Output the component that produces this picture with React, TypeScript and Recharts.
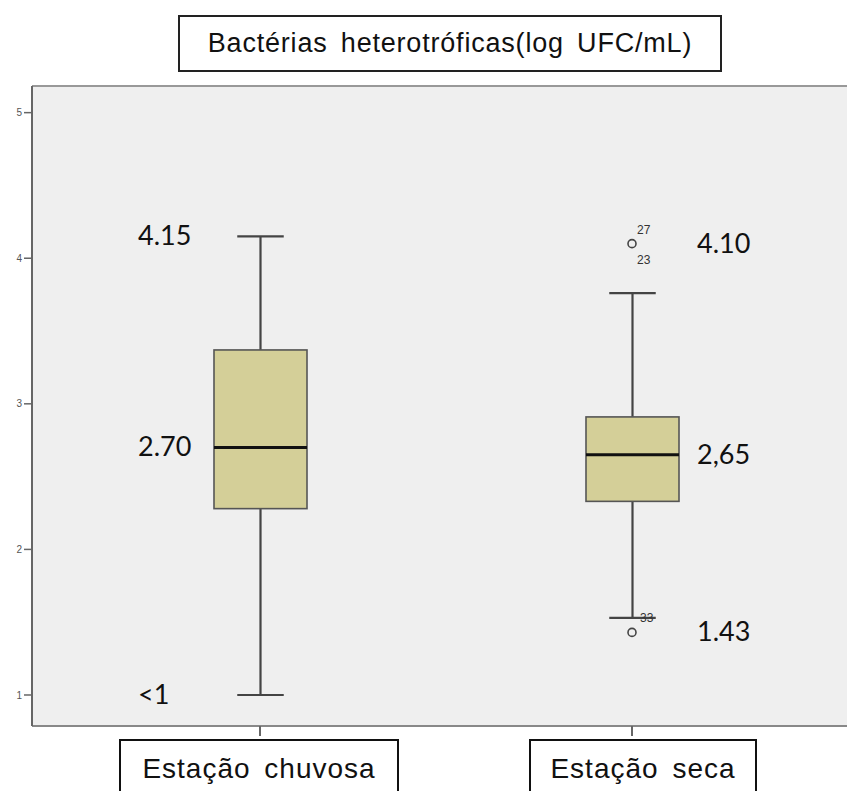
import React from 'react';
import {
  ComposedChart,
  Bar,
  Scatter,
  XAxis,
  YAxis,
  CartesianGrid,
  ReferenceLine,
} from 'recharts';

// five-number summaries per season (log UFC/mL)
const CATEGORIES = ['Estação chuvosa', 'Estação seca'];
const WHISKER_LOW = [1.0, 1.53];
const Q1 = [2.28, 2.33];
const MEDIAN = [2.7, 2.65];
const Q3 = [3.37, 2.91];
const WHISKER_HIGH = [4.15, 3.76];

// outliers with their case numbers
const OUTLIER_CATS = ['Estação seca', 'Estação seca'];
const OUTLIER_VALUES = [4.1, 1.43];
const OUTLIER_IDS = [['27', '23'], ['33']];

// values written beside each box
const NOTE_VALUES = [[4.15, 2.7, 1.0], [4.1, 2.65, 1.43]];
const NOTE_TEXT = [['4.15', '2.70', '<1'], ['4.10', '2,65', '1.43']];

const Y_TICKS = [1, 2, 3, 4, 5];
const Y_MIN = 0.787;
const Y_MAX = 5.183;

const W = 847;
const H = 791;
const BOX_FILL = '#d4cf98';
const EDGE = '#444';
const NOTE_FONT = 'Lato, "Open Sans", sans-serif';
const ARIAL = '"Liberation Sans", Arial, sans-serif';

// note placement: first box gets notes on its left, second on its right
const NOTE_SIDE = ['left', 'right'];
// category label frames
const LABEL_BOX = [
  { w: 278, dx: -1 },
  { w: 226, dx: 11 },
];

const rows = CATEGORIES.map((cat, i) => ({
  cat,
  idx: i,
  lo: WHISKER_LOW[i],
  q1: Q1[i],
  med: MEDIAN[i],
  q3: Q3[i],
  hi: WHISKER_HIGH[i],
}));

const outliers = OUTLIER_VALUES.map((value, i) => ({
  cat: OUTLIER_CATS[i],
  value,
  ids: OUTLIER_IDS[i],
}));

const BoxShape = (props: any) => {
  const { x, y, width, height, payload } = props;
  const top = Math.min(y, y + height);
  const bot = Math.max(y, y + height);
  const k = (bot - top) / (payload.hi - payload.lo);
  const yOf = (v: number) => bot - (v - payload.lo) * k;
  const cx = x + width / 2;
  const cap = width / 4;
  const side = NOTE_SIDE[payload.idx];
  const noteX = side === 'left' ? x - 76 : x + width + 18;
  return (
    <g>
      <line x1={cx} x2={cx} y1={yOf(payload.hi)} y2={yOf(payload.q3)} stroke={EDGE} strokeWidth={2.2} />
      <line x1={cx} x2={cx} y1={yOf(payload.q1)} y2={yOf(payload.lo)} stroke={EDGE} strokeWidth={2.2} />
      <line x1={cx - cap} x2={cx + cap} y1={yOf(payload.hi)} y2={yOf(payload.hi)} stroke={EDGE} strokeWidth={2.2} />
      <line x1={cx - cap} x2={cx + cap} y1={yOf(payload.lo)} y2={yOf(payload.lo)} stroke={EDGE} strokeWidth={2.2} />
      <rect
        x={x}
        y={yOf(payload.q3)}
        width={width}
        height={yOf(payload.q1) - yOf(payload.q3)}
        fill={BOX_FILL}
        stroke="#555"
        strokeWidth={1.6}
      />
      <line x1={x} x2={x + width} y1={yOf(payload.med)} y2={yOf(payload.med)} stroke="#111" strokeWidth={3} />
      {NOTE_VALUES[payload.idx].map((v, j) => (
        <text
          key={j}
          x={noteX}
          y={yOf(v)}
          dy={9}
          fontFamily={NOTE_FONT}
          fontSize={27}
          fill="#111"
        >
          {NOTE_TEXT[payload.idx][j]}
        </text>
      ))}
    </g>
  );
};

const OutlierShape = (props: any) => {
  const { cx, cy, payload } = props;
  const ids: string[] = payload.ids;
  return (
    <g>
      <circle cx={cx} cy={cy} r={4} fill="none" stroke="#444" strokeWidth={1.6} />
      {ids.length === 2 ? (
        <>
          <text x={cx + 5} y={cy - 10} fontFamily={ARIAL} fontSize={12} fill="#333">{ids[0]}</text>
          <text x={cx + 5} y={cy + 20} fontFamily={ARIAL} fontSize={12} fill="#333">{ids[1]}</text>
        </>
      ) : (
        <text x={cx + 8} y={cy - 10} fontFamily={ARIAL} fontSize={12} fill="#333">{ids[0]}</text>
      )}
    </g>
  );
};

const CategoryTick = (props: any) => {
  const { x, y, payload, index } = props;
  const box = LABEL_BOX[index] || LABEL_BOX[0];
  const cx = x + box.dx;
  return (
    <g>
      <rect x={cx - box.w / 2} y={y + 4} width={box.w} height={70} fill="#fff" stroke="#111" strokeWidth={2} />
      <text
        x={cx}
        y={y + 42}
        textAnchor="middle"
        fontFamily={ARIAL}
        fontSize={28}
        letterSpacing={1}
        wordSpacing={5}
        fill="#111"
      >
        {payload.value}
      </text>
    </g>
  );
};

export default function App() {
  return (
    <div
      style={{
        position: 'absolute',
        left: 0,
        top: 0,
        width: W,
        height: H,
        background: '#fff',
        overflow: 'hidden',
      }}
    >
      <ComposedChart
        width={W}
        height={H}
        data={rows}
        margin={{ top: 86, right: 0, bottom: 0, left: 0 }}
      >
        <CartesianGrid fill="#efefef" horizontal={false} vertical={false} />
        <ReferenceLine y={Y_MAX} stroke="#999" strokeWidth={2} />
        <XAxis
          dataKey="cat"
          type="category"
          allowDuplicatedCategory={false}
          padding={{ left: 42, right: 29 }}
          height={65}
          axisLine={{ stroke: '#888', strokeWidth: 2 }}
          tickLine={{ stroke: '#666', strokeWidth: 2 }}
          tickSize={10}
          tickMargin={0}
          tick={<CategoryTick />}
          interval={0}
        />
        <YAxis
          type="number"
          domain={[Y_MIN, Y_MAX]}
          ticks={Y_TICKS}
          width={32}
          axisLine={{ stroke: '#666', strokeWidth: 2 }}
          tickLine={{ stroke: '#666', strokeWidth: 1.5 }}
          tickSize={8}
          tick={{ fontSize: 10, fill: '#555', fontFamily: ARIAL }}
        />
        <Bar
          dataKey={(d: any) => [d.lo, d.hi]}
          barSize={93}
          shape={<BoxShape />}
          isAnimationActive={false}
        />
        <Scatter
          data={outliers}
          dataKey="value"
          shape={<OutlierShape />}
          isAnimationActive={false}
        />
      </ComposedChart>
      <div
        style={{
          position: 'absolute',
          left: 178,
          top: 15,
          width: 544,
          height: 57,
          boxSizing: 'border-box',
          border: '2px solid #222',
          background: '#fff',
          display: 'flex',
          alignItems: 'center',
          justifyContent: 'center',
          fontFamily: ARIAL,
          fontSize: 27,
          letterSpacing: 0.8,
          wordSpacing: 5,
          color: '#111',
        }}
      >
        Bactérias heterotróficas(log UFC/mL)
      </div>
    </div>
  );
}
